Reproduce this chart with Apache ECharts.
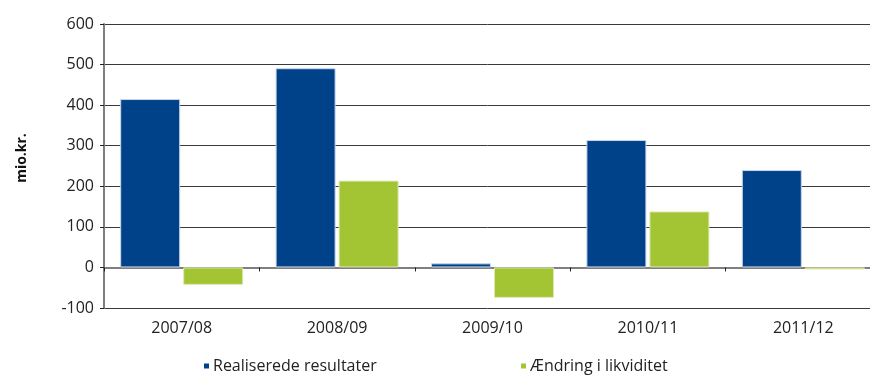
<!DOCTYPE html>
<html>
<head>
<meta charset="utf-8">
<script src="https://cdn.jsdelivr.net/npm/echarts@6/dist/echarts.min.js"></script>
<style>
  html, body { margin: 0; padding: 0; background: #fff; }
  #chart { width: 870px; height: 376px; }
</style>
</head>
<body>
<div id="chart"></div>
<script>
// Fiscal years
const years = ['2007/08', '2008/09', '2009/10', '2010/11', '2011/12'];
// Realised results, mio. kr.
const realiseredeResultater = [415, 491, 10, 314, 240];
// Change in liquidity, mio. kr.
const aendringLikviditet = [-43, 214, -75, 138, -5];
// Value axis ticks
const yTicks = [-100, 0, 100, 200, 300, 400, 500, 600];

const FONT = '"Open Sans", "Noto Sans", sans-serif';
const BLUE = '#00428A';
const GREEN = '#A3C534';

const chart = echarts.init(document.getElementById('chart'));
chart.setOption({
  animation: false,
  backgroundColor: '#ffffff',
  textStyle: { fontFamily: FONT },
  grid: { left: 104, top: 24, width: 777, height: 284, containLabel: false, outerBoundsMode: 'none' },
  graphic: [
    {
      type: 'text',
      x: 22, y: 158,
      rotation: Math.PI / 2,
      style: {
        text: 'mio.kr.',
        fontFamily: FONT, fontSize: 14, fontWeight: 'bold', fill: '#111',
        align: 'center', verticalAlign: 'middle'
      }
    }
  ],
  legend: [
    {
      data: ['Realiserede resultater'],
      left: 199, top: 353,
      icon: 'rect', itemWidth: 5, itemHeight: 5, itemGap: 0,
      itemStyle: { borderWidth: 0 },
      textStyle: { fontFamily: FONT, fontSize: 16, color: '#222', padding: [0, 0, 0, -1] }
    },
    {
      data: ['Ændring i likviditet'],
      left: 516, top: 353,
      icon: 'rect', itemWidth: 5, itemHeight: 5, itemGap: 0,
      itemStyle: { borderWidth: 0 },
      textStyle: { fontFamily: FONT, fontSize: 16, color: '#222', padding: [0, 0, 0, -1] }
    }
  ],
  xAxis: {
    type: 'category',
    data: years,
    boundaryGap: true,
    axisLine: { onZero: true, lineStyle: { color: '#7f7f7f', width: 2 } },
    axisTick: { show: true, alignWithLabel: false, length: 4, lineStyle: { color: '#222', width: 1 } },
    axisLabel: { margin: 12, fontFamily: FONT, fontSize: 16, color: '#222' },
    splitLine: { show: false }
  },
  yAxis: {
    type: 'value',
    min: yTicks[0],
    max: yTicks[yTicks.length - 1],
    interval: 100,
    axisLine: { show: true, lineStyle: { color: '#7f7f7f', width: 2 } },
    axisTick: { show: true, inside: false, length: 4, lineStyle: { color: '#222', width: 1 } },
    axisLabel: { margin: 10, fontFamily: FONT, fontSize: 16, color: '#222' },
    splitLine: { show: true, lineStyle: { color: '#3a3a3a', width: 1 } }
  },
  series: [
    {
      name: 'Realiserede resultater',
      type: 'bar',
      data: realiseredeResultater,
      barWidth: 60,
      barGap: '5%',
      itemStyle: { color: BLUE, borderColor: '#c9d6ea', borderWidth: 1 },
      z: 3
    },
    {
      name: 'Ændring i likviditet',
      type: 'bar',
      data: aendringLikviditet,
      barWidth: 60,
      barGap: '5%',
      itemStyle: { color: GREEN, borderColor: '#dbe9b0', borderWidth: 1 },
      z: 3
    }
  ]
});
</script>
</body>
</html>
